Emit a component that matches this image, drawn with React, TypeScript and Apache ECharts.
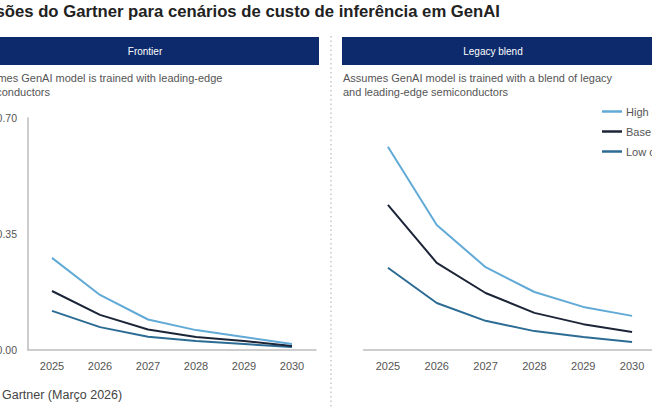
import React, { useEffect, useRef } from "react";
import * as echarts from "echarts";

// Cost per inference scenarios (USD), 2025-2030
const years = ["2025", "2026", "2027", "2028", "2029", "2030"];
const yTicks = [0, 0.35, 0.7];

const frontierHigh = [0.278, 0.166, 0.092, 0.060, 0.039, 0.018];
const frontierBase = [0.178, 0.106, 0.062, 0.039, 0.027, 0.012];
const frontierLow = [0.118, 0.069, 0.040, 0.027, 0.018, 0.009];

const legacyHigh = [0.613, 0.377, 0.250, 0.175, 0.130, 0.103];
const legacyBase = [0.438, 0.263, 0.172, 0.112, 0.078, 0.054];
const legacyLow = [0.248, 0.142, 0.088, 0.057, 0.039, 0.024];

const seriesNames = ["High cost", "Base case", "Low cost"];
const seriesColors = ["#62aad6", "#1c2537", "#2c6c94"];

const NAVY = "#0c2a6c";
const FONT = "'Liberation Sans', Arial, sans-serif";

export default function App() {
  const ref = useRef<HTMLDivElement>(null);

  useEffect(() => {
    if (!ref.current) return;
    const chart = echarts.init(ref.current, undefined, { renderer: "svg" });

    const yAxisBase = {
      type: "value" as const,
      min: yTicks[0],
      max: yTicks[yTicks.length - 1],
      interval: yTicks[1] - yTicks[0],
      splitLine: { show: false },
      axisTick: { show: false },
    };
    const xAxisBase = {
      type: "category" as const,
      data: years,
      boundaryGap: true,
      axisTick: { show: false },
      axisLine: { show: true, lineStyle: { color: "#bdbdbd", width: 1.5 } },
      axisLabel: { color: "#555", fontSize: 11, fontFamily: FONT, margin: 10 },
    };

    const panel = (data: number[][], idx: number) =>
      data.map((vals, i) => ({
        name: seriesNames[i],
        type: "line" as const,
        xAxisIndex: idx,
        yAxisIndex: idx,
        data: vals,
        showSymbol: false,
        symbol: "none",
        lineStyle: { color: seriesColors[i], width: 2 },
        itemStyle: { color: seriesColors[i] },
        z: 3 - i,
      }));

    chart.setOption({
      animation: false,
      backgroundColor: "#fff",
      textStyle: { fontFamily: FONT },
      grid: [
        { left: 28, top: 118, width: 288, height: 232, containLabel: false, outerBoundsMode: "none" },
        { left: 363.5, top: 118, width: 293, height: 232, containLabel: false, outerBoundsMode: "none" },
      ],
      xAxis: [
        { ...xAxisBase, gridIndex: 0 },
        { ...xAxisBase, gridIndex: 1 },
      ],
      yAxis: [
        {
          ...yAxisBase,
          gridIndex: 0,
          axisLine: { show: true, lineStyle: { color: "#bdbdbd", width: 1.5 } },
          axisLabel: {
            color: "#555",
            fontSize: 10.5,
            fontFamily: FONT,
            margin: 11,
            formatter: (v: number) => v.toFixed(2),
          },
        },
        {
          ...yAxisBase,
          gridIndex: 1,
          axisLine: { show: false },
          axisLabel: { show: false },
        },
      ],
      legend: {
        orient: "vertical",
        left: 602,
        top: 106,
        padding: 0,
        data: seriesNames,
        icon: "rect",
        itemWidth: 20,
        itemHeight: 2.5,
        itemGap: 9,
        textStyle: { color: "#555", fontSize: 11, fontFamily: FONT, padding: [0, 0, 0, -1] },
      },
      series: [
        ...panel([frontierHigh, frontierBase, frontierLow], 0),
        ...panel([legacyHigh, legacyBase, legacyLow], 1),
      ],
      graphic: [
        {
          type: "text",
          right: 152,
          top: 3,
          style: {
            text: "Previsões do Gartner para cenários de custo de inferência em GenAI",
            fill: "#222",
            font: `bold 16.7px ${FONT}`,
          },
        },
        { type: "rect", shape: { x: -9, y: 37, width: 328, height: 28 }, style: { fill: NAVY } },
        { type: "rect", shape: { x: 342, y: 37, width: 330, height: 28 }, style: { fill: NAVY } },
        {
          type: "text",
          x: 145,
          y: 51,
          style: { text: "Frontier", fill: "#fff", font: `10px ${FONT}`, align: "center", verticalAlign: "middle" },
        },
        {
          type: "text",
          x: 493,
          y: 51,
          style: { text: "Legacy blend", fill: "#fff", font: `10px ${FONT}`, align: "center", verticalAlign: "middle" },
        },
        {
          type: "text",
          x: -27,
          y: 71,
          style: {
            text: "Assumes GenAI model is trained with leading-edge\nsemiconductors",
            fill: "#555",
            font: `11px ${FONT}`,
            lineHeight: 14,
          },
        },
        {
          type: "text",
          x: 343,
          y: 71,
          style: {
            text: "Assumes GenAI model is trained with a blend of legacy\nand leading-edge semiconductors",
            fill: "#555",
            font: `11px ${FONT}`,
            lineHeight: 14,
          },
        },
        {
          type: "line",
          shape: { x1: 331, y1: 36, x2: 331, y2: 408 },
          style: { stroke: "#c8c8c8", lineWidth: 1.5, lineDash: [1.5, 3] },
        },
        {
          type: "text",
          x: 2,
          y: 388,
          style: { text: "Gartner (Março 2026)", fill: "#444", font: `12.5px ${FONT}` },
        },
      ],
    });

    return () => chart.dispose();
  }, []);

  return (
    <div
      ref={ref}
      style={{ position: "fixed", left: 0, top: 0, width: 652, height: 408, background: "#fff" }}
    />
  );
}
